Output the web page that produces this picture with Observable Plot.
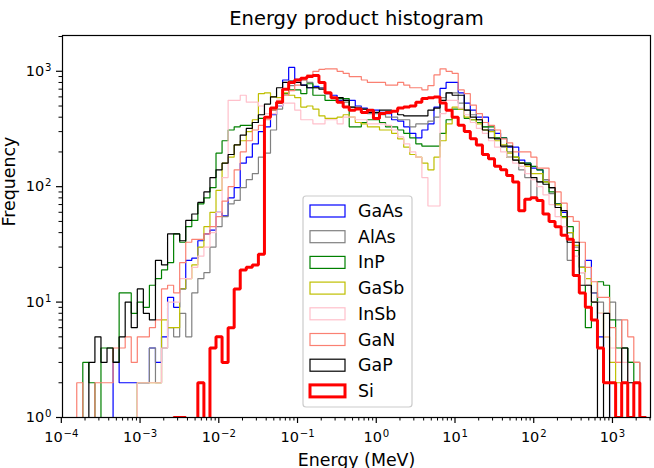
<!DOCTYPE html>
<html>
<head>
<meta charset="utf-8">
<script src="https://cdn.jsdelivr.net/npm/d3@7"></script>
<script src="https://cdn.jsdelivr.net/npm/@observablehq/plot@0.6"></script>
<style>
  html, body { margin: 0; padding: 0; background: #fff; }
  #chart { width: 654px; height: 468px; overflow: hidden; }
  #chart svg { font-family: "DejaVu Sans", sans-serif; }
</style>
</head>
<body>
<div id="chart"></div>
<script>
// Shared logarithmic binning (log10 of the first edge, log10 step, number of bins)
const binLog0 = -3.804;
const binLogStep = 0.0769;
const binCount = 94;

const materials = ["GaAs", "AlAs", "InP", "GaSb", "InSb", "GaN", "GaP", "Si"];
const colors = ["#0000ff", "#808080", "#008000", "#bfbf00", "#ffc0cb", "#fa8072", "#000000", "#ff0000"];
const widths = [1.2, 1.2, 1.2, 1.2, 1.2, 1.2, 1.2, 3];

// Counts per bin, one list per material
const GaAs = [
  0,0,0,0,0,0,3,2,2,2,
  2,2,4,3,5,11,9,13,23,24,
  34,39,42,60,56,80,98,160,180,235,
  300,330,420,500,840,1080,850,760,720,740,
  720,640,620,560,560,560,500,480,460,460,
  440,430,380,370,330,290,265,310,350,490,
  710,800,800,650,530,460,400,400,310,290,
  265,220,220,170,160,145,140,115,98,71,
  60,40,28,20,23,12,5,2,1,0,
  0,0,0,0];
const AlAs = [
  0,0,0,0,0,0,0,0,0,0,
  2,2,4,2,4,6,5,8,5,12,
  16,18,30,45,55,71,76,98,115,130,
  180,195,310,470,640,750,840,840,800,720,
  720,640,590,590,540,490,490,470,430,430,
  420,400,400,380,380,330,350,350,370,400,
  590,650,650,530,460,420,380,330,310,265,
  220,200,170,140,120,80,110,115,87,70,
  55,23,30,18,14,12,10,8,10,7,
  4,3,3,0];
const InP = [
  0,3,2,0,4,4,3,12,12,8,
  10,9,14,16,19,22,39,33,45,51,
  71,80,98,195,250,310,330,340,340,360,
  390,400,460,530,640,690,690,640,780,620,
  620,560,560,580,580,330,330,360,380,380,
  360,330,330,310,290,265,235,225,225,225,
  290,380,470,470,390,380,360,330,330,265,
  265,180,180,160,160,150,140,110,90,71,
  55,45,28,20,6,10,15,14,7,4,
  4,3,2,0];
const GaSb = [
  0,0,0,0,0,0,0,0,0,0,
  2,2,2,2,7,6,6,13,16,21,
  30,45,60,93,160,180,230,250,300,380,
  640,650,600,590,650,620,590,490,500,470,
  410,390,390,400,420,400,360,350,330,330,
  310,310,290,260,220,190,180,160,140,180,
  250,350,490,470,400,380,350,310,300,250,
  230,195,180,160,150,130,130,110,98,70,
  54,40,31,20,16,10,8,5,3,2,
  2,0,0,0];
const InSb = [
  0,0,0,0,0,0,0,0,0,0,
  2,2,2,2,4,10,10,16,16,20,
  25,30,40,60,120,560,560,620,540,540,
  500,430,430,500,530,530,460,380,380,350,
  350,380,380,350,400,400,380,380,350,350,
  350,340,310,270,235,200,180,120,68,68,
  430,560,560,480,420,360,320,290,250,220,
  200,180,160,150,130,115,100,85,70,55,
  45,35,25,18,14,10,8,5,4,3,
  3,2,1,0];
const GaN = [
  2,0,0,2,2,2,4,4,5,3,
  5,5,6,7,13,14,12,22,33,35,
  35,39,45,55,75,100,140,200,250,310,
  340,380,460,560,620,680,760,840,930,1000,
  1040,1050,1050,1000,960,900,900,840,800,800,
  800,760,760,800,760,720,720,690,750,930,
  1050,1000,960,690,640,510,430,360,340,310,
  260,240,200,200,200,180,145,145,110,90,
  72,55,50,33,20,15,11,11,6,3,
  7,5,3,1];
const GaP = [
  0,0,3,5,3,4,3,5,10,6,
  13,8,7,23,21,39,39,34,51,58,
  73,90,120,140,160,190,230,280,320,360,
  420,520,600,720,800,820,800,760,720,720,
  700,650,590,590,560,490,480,470,440,440,
  460,460,450,420,410,410,410,410,460,480,
  560,650,620,620,460,400,380,310,265,260,
  225,225,170,160,155,120,110,105,98,66,
  62,33,33,14,14,10,0,8,1,0,
  4,2,0,0];
const Si = [
  0,0,0,0,0,0,0,0,0,0,
  0,0,0,0,0,0,1,1,0,0,
  2,0,4,5,3,6,13,19,20,21,
  26,400,480,540,700,800,840,870,900,920,
  800,650,590,540,490,460,470,440,460,390,
  430,440,450,480,490,500,540,580,590,600,
  530,460,400,340,300,260,230,190,175,150,
  140,125,110,62,78,80,76,58,50,45,
  38,35,17,12,9,7,4,2,2,1,
  2,1,2,1];

const seriesCounts = [GaAs, AlAs, InP, GaSb, InSb, GaN, GaP, Si];

// Axis decades and limits
const xTickExps = [-4, -3, -2, -1, 0, 1, 2, 3];
const yTickExps = [0, 1, 2, 3];
const xLimExps = [-3.985, 3.483];
const yLimExps = [0, 3.31];

const edges = d3.range(binCount + 1).map(k => 10 ** (binLog0 + k * binLogStep));

// Empty bins drop below the lower limit of the log axis, as an unfilled step outline does
const belowAxis = 0.3;
function outline(counts) {
  const pts = [{x: edges[0], y: belowAxis}];
  counts.forEach((c, i) => {
    const y = c > 0 ? c : belowAxis;
    pts.push({x: edges[i], y}, {x: edges[i + 1], y});
  });
  pts.push({x: edges[counts.length], y: belowAxis});
  return pts;
}

// "10^e" tick text; the exponent is raised into a superscript after rendering
const powerLabel = d => "10^" + Math.round(Math.log10(d));

function minorTicks(lo, hi) {
  const out = [];
  for (let e = Math.floor(lo); e <= Math.ceil(hi); e++) {
    for (let m = 2; m <= 9; m++) {
      const v = m * 10 ** e;
      if (Math.log10(v) >= lo && Math.log10(v) <= hi) out.push(v);
    }
  }
  return out;
}

const xMajor = xTickExps.map(e => 10 ** e);
const yMajor = yTickExps.map(e => 10 ** e);

const marks = [];
seriesCounts.forEach((counts, k) => {
  marks.push(Plot.line(outline(counts), {
    x: "x", y: "y", stroke: colors[k], strokeWidth: widths[k], clip: true, strokeLinejoin: "miter"
  }));
});

marks.push(
  Plot.frame({stroke: "#000", strokeWidth: 1.2}),
  Plot.axisX({ticks: xMajor, tickFormat: powerLabel, tickSize: 6, tickPadding: 8, fontSize: 14.5, strokeWidth: 1.2, label: null}),
  Plot.axisX({ticks: minorTicks(...xLimExps), tickFormat: () => "", tickSize: 3.5, strokeWidth: 1, label: null}),
  Plot.axisY({ticks: yMajor, tickFormat: powerLabel, tickSize: 6, tickPadding: 5, fontSize: 14.5, strokeWidth: 1.2, label: null}),
  Plot.axisY({ticks: minorTicks(...yLimExps), tickFormat: () => "", tickSize: 3.5, strokeWidth: 1, label: null}),
  Plot.text(["Energy product histogram"], {frameAnchor: "top", dy: -17, lineAnchor: "middle", fontSize: 19.5}),
  Plot.text(["Energy (MeV)"], {frameAnchor: "bottom", dy: 43, lineAnchor: "middle", fontSize: 17.4}),
  Plot.text(["Frequency"], {frameAnchor: "left", dx: -53, rotate: -90, lineAnchor: "middle", fontSize: 17.4})
);

const chart = Plot.plot({
  width: 654,
  height: 468,
  marginLeft: 62,
  marginRight: 4,
  marginTop: 35,
  marginBottom: 51,
  style: {fontFamily: "DejaVu Sans", color: "#000", background: "#fff"},
  x: {type: "log", domain: xLimExps.map(e => 10 ** e)},
  y: {type: "log", domain: yLimExps.map(e => 10 ** e)},
  marks
});

// Superscript exponents on the decade labels
d3.select(chart).selectAll('g[aria-label="x-axis tick label"] text, g[aria-label="y-axis tick label"] text')
  .each(function () {
    const t = this.textContent;
    if (!t.startsWith("10^")) return;
    const exp = t.slice(3).replace("-", "\u2212");
    const node = d3.select(this);
    node.text("10");
    node.append("tspan").attr("dx", "0.08em").attr("dy", "-0.5em").attr("font-size", "0.7em").text(exp);
  });

// Legend box with outline swatches
const lg = d3.select(chart).append("g")
  .attr("font-family", "DejaVu Sans").attr("font-size", 17.4).attr("text-anchor", "start");
const lgX = 303, lgY = 196, lgW = 109, lgRow = 25.7, lgFirst = 211;
lg.append("rect").attr("x", lgX).attr("y", lgY).attr("width", lgW).attr("height", 211)
  .attr("rx", 3).attr("fill", "#fff").attr("fill-opacity", 0.8).attr("stroke", "#cccccc").attr("stroke-width", 1.2);
materials.forEach((name, k) => {
  const cy = lgFirst + k * lgRow;
  lg.append("rect").attr("x", 310).attr("y", cy - 6).attr("width", 35).attr("height", 12)
    .attr("fill", "none").attr("stroke", colors[k]).attr("stroke-width", widths[k]);
  lg.append("text").attr("x", 358).attr("y", cy).attr("dy", "0.35em").attr("fill", "#000").text(name);
});

document.getElementById("chart").appendChild(chart);
</script>
</body>
</html>
